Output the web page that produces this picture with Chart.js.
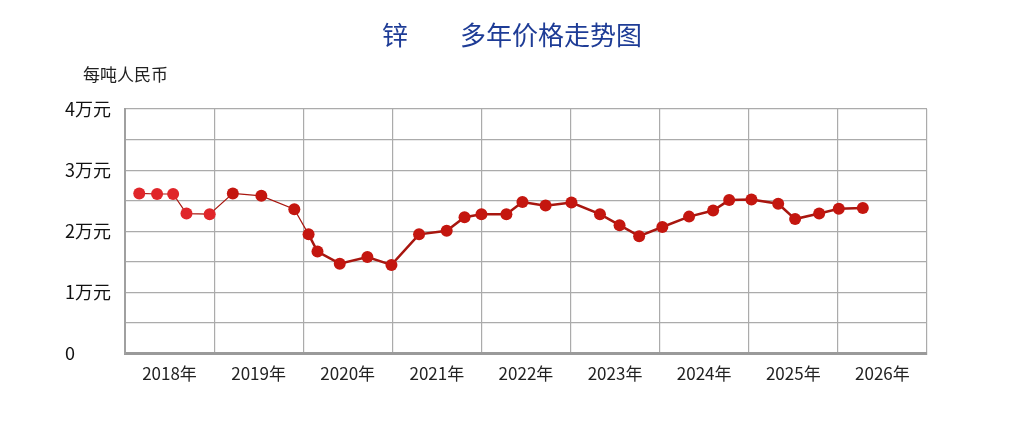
<!DOCTYPE html>
<html>
<head>
<meta charset="utf-8">
<script src="https://cdn.jsdelivr.net/npm/chart.js@4/dist/chart.umd.min.js"></script>
<style>
  html, body { margin: 0; padding: 0; background: #fff; }
  #wrap { width: 1013px; height: 423px; }
</style>
</head>
<body>
<div id="wrap"><canvas id="zincChart"></canvas></div>
<script>
// 标题和单位
var chartTitle = "锌\u3000\u3000多年价格走势图";
var unitLabel = "每吨人民币";

// 年份标签（每格一年）
var yearLabels = ["2018年", "2019年", "2020年", "2021年", "2022年", "2023年", "2024年", "2025年", "2026年"];

// 各点在时间轴上的位置（以年计）
var pointYears = [2018.16, 2018.36, 2018.54, 2018.69, 2018.95, 2019.21, 2019.53, 2019.90,
                  2020.06, 2020.16, 2020.41, 2020.72, 2020.99, 2021.30, 2021.61, 2021.81,
                  2022.00, 2022.28, 2022.46, 2022.72, 2023.01, 2023.33, 2023.55, 2023.77,
                  2024.03, 2024.33, 2024.60, 2024.78, 2025.03, 2025.33, 2025.52, 2025.79,
                  2026.01, 2026.28];

// 价格（元/吨）
var prices = [26200, 26100, 26100, 22900, 22800, 26200, 25800, 23600,
              19500, 16700, 14700, 15800, 14500, 19500, 20100, 22300,
              22800, 22800, 24800, 24200, 24700, 22800, 21000, 19200,
              20700, 22400, 23400, 25100, 25200, 24500, 22000, 22900,
              23700, 23800];

// 纵轴刻度
var yMin = 0, yMax = 40000, yStep = 5000;

var points = pointYears.map(function (x, i) { return { x: x, y: prices[i] }; });

// 标题、单位文字
var headerText = {
    id: 'headerText',
    afterDraw: function (chart) {
        var c = chart.ctx;
        c.save();
        c.textBaseline = 'middle';
        c.fillStyle = '#1e3c96';
        c.font = '26px "Noto Sans CJK SC"';
        c.textAlign = 'center';
        c.fillText(chartTitle, 512, 35);
        c.fillStyle = '#222';
        c.font = '17px "Noto Sans CJK SC"';
        c.textAlign = 'left';
        c.fillText(unitLabel, 83, 75);
        c.restore();
    }
};

var ctx = document.getElementById("zincChart");
var zincChart = new Chart(ctx, {
    type: 'line',
    data: {
        datasets: [{
            data: points,
            borderColor: '#a8160f',
            borderWidth: 2.5,
            pointRadius: 6,
            pointHoverRadius: 6,
            pointBorderWidth: 0,
            pointBackgroundColor: function (c) {
                return c.dataIndex < 5 ? '#e0262a' : '#c4160f';
            },
            segment: {
                borderWidth: function (c) { return c.p0DataIndex < 8 ? 1.2 : 2.5; }
            },
            tension: 0,
            fill: false
        }]
    },
    options: {
        responsive: true,
        maintainAspectRatio: false,
        animation: false,
        layout: { padding: { left: 65, right: 86, top: 109, bottom: 29 } },
        plugins: {
            legend: { display: false },
            title: { display: false },
            tooltip: { enabled: false }
        },
        scales: {
            x: {
                type: 'linear',
                min: 2018,
                max: 2027,
                grid: { color: '#ababab', lineWidth: 1.2, drawTicks: false },
                border: { display: true, color: '#9a9a9a', width: 3 },
                ticks: {
                    stepSize: 1,
                    autoSkip: false,
                    maxRotation: 0,
                    padding: 10,
                    labelOffset: 44.5,
                    color: '#222',
                    font: { family: '"Noto Sans CJK SC"', size: 17 },
                    callback: function (v, i) { return yearLabels[i] || ''; }
                }
            },
            y: {
                min: yMin,
                max: yMax,
                afterFit: function (scale) { scale.width = 60; },
                grid: { color: '#ababab', lineWidth: 1.2, drawTicks: false },
                border: { display: true, color: '#a0a0a0', width: 2 },
                ticks: {
                    stepSize: yStep,
                    crossAlign: 'far',
                    padding: 8,
                    color: '#111',
                    font: { family: '"Noto Sans CJK SC"', size: 18 },
                    callback: function (v) {
                        if (v === 0) return '0';
                        return v % 10000 === 0 ? (v / 10000) + '万元' : '';
                    }
                }
            }
        }
    },
    plugins: [headerText]
});
</script>
</body>
</html>
